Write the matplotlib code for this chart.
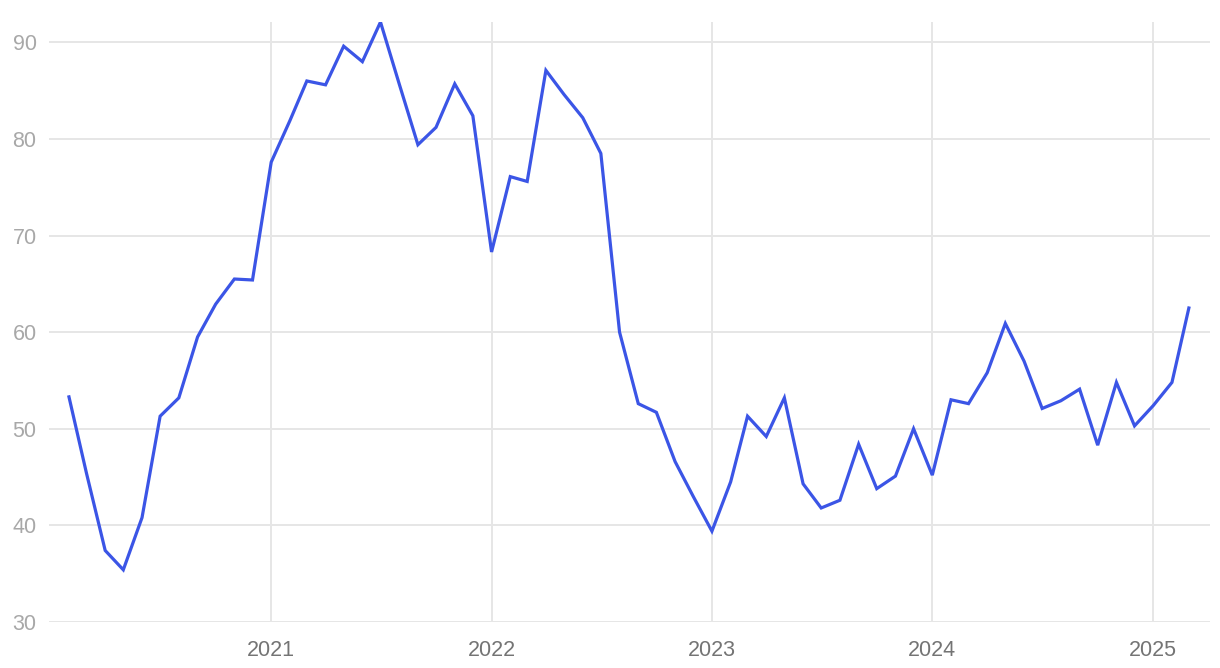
import numpy as np
import pandas as pd
import matplotlib
matplotlib.use("Agg")
import matplotlib.pyplot as plt
import matplotlib.dates as mdates

# monthly values, Feb 2020 .. Mar 2025
dates = pd.date_range("2020-02-01", "2025-03-01", freq="MS")
values = [
    53.3, 45.4, 37.4, 35.4, 40.8, 51.3, 53.2, 59.5, 62.9, 65.5, 65.4,        # 2020
    77.6, 81.9, 86.0, 85.6, 89.6, 88.0, 92.1, 85.7, 79.4, 81.2, 85.7, 82.4,  # 2021
    68.3, 76.1, 75.6, 87.1, 84.6, 82.2, 78.5, 60.0, 52.6, 51.7, 46.6, 43.0,  # 2022
    39.4, 44.5, 51.3, 49.2, 53.2, 44.3, 41.8, 42.6, 48.4, 43.8, 45.1, 50.0,  # 2023
    45.2, 53.0, 52.6, 55.8, 60.9, 57.0, 52.1, 52.9, 54.1, 48.3, 54.8, 50.3,  # 2024
    52.4, 54.8, 62.5,                                                        # 2025
]
yticks = [30, 40, 50, 60, 70, 80, 90]
xtick_years = [2021, 2022, 2023, 2024, 2025]

plt.rcParams['font.family'] = ['Liberation Sans', 'DejaVu Sans']

fig = plt.figure(figsize=(12.2, 6.68), dpi=100)
ax = fig.add_axes([0.0402, 0.0689, 0.9516, 0.8981])

ax.plot(dates, values, color='#3b55e6', lw=2.3, solid_joinstyle='miter', zorder=3)

ax.set_xlim(pd.Timestamp("2019-12-30"), pd.Timestamp("2025-04-05"))
ax.set_ylim(30, max(values))
ax.set_yticks(yticks)
ax.set_xticks([pd.Timestamp(f"{y}-01-01") for y in xtick_years])
ax.xaxis.set_major_formatter(mdates.DateFormatter('%Y'))

ax.grid(True, color='#e6e6e6', lw=1.4)
ax.set_axisbelow(True)
for s in ax.spines.values():
    s.set_visible(False)
ax.tick_params(axis='both', length=0, labelsize=15.5)
ax.tick_params(axis='y', colors='#a8a8a8', pad=9)
ax.tick_params(axis='x', colors='#747474', pad=13)

fig.savefig("out.png", dpi=100, facecolor='white')
